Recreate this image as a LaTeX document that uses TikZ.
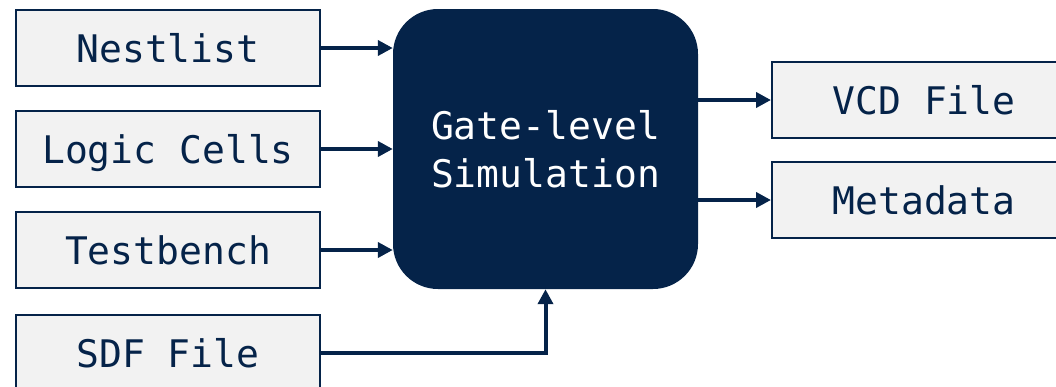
\documentclass[tikz,border=0pt]{standalone}
\usepackage{fontspec}
\newfontfamily\diagmono{DejaVu Sans Mono}
\usetikzlibrary{arrows.meta}
\definecolor{navy}{HTML}{052349}
\definecolor{boxgray}{HTML}{F2F2F2}
\tikzset{
  iobox/.style={draw=navy, line width=2pt, fill=boxgray, minimum width=304pt, minimum height=76pt, inner sep=0pt, text height=28pt, text depth=0pt, text=navy, font=\diagmono\fontsize{38pt}{48pt}\selectfont},
  core/.style={fill=navy, rounded corners=45pt, minimum width=305pt, minimum height=280pt, inner sep=0pt, text=white, align=center, font=\diagmono\fontsize{38pt}{48pt}\selectfont},
  flow/.style={draw=navy, line width=4pt, -{Triangle[length=15pt,width=15pt]}}
}
\begin{document}
\begin{tikzpicture}[x=1pt,y=-1pt]
\useasboundingbox (0,0) rectangle (1056,386);
\clip (0,0) rectangle (1056,386);
\node[iobox] (nest) at (168,48) {Nestlist};
\node[iobox] (logic) at (168,149) {Logic Cells};
\node[iobox] (tb) at (168,250) {Testbench};
\node[iobox] (sdf) at (168,353) {SDF File};
\node[core] (gate) at (545.5,149) {Gate-level\\Simulation};
\node[iobox] (vcd) at (924,100) {VCD File};
\node[iobox] (meta) at (924,200) {Metadata};
\draw[flow] (nest.east) -- (nest.east -| gate.west);
\draw[flow] (logic.east) -- (logic.east -| gate.west);
\draw[flow] (tb.east) -- (tb.east -| gate.west);
\draw[flow] (sdf.east) -| (gate.south);
\draw[flow] (gate.east |- vcd.west) -- (vcd.west);
\draw[flow] (gate.east |- meta.west) -- (meta.west);
\end{tikzpicture}
\end{document}
